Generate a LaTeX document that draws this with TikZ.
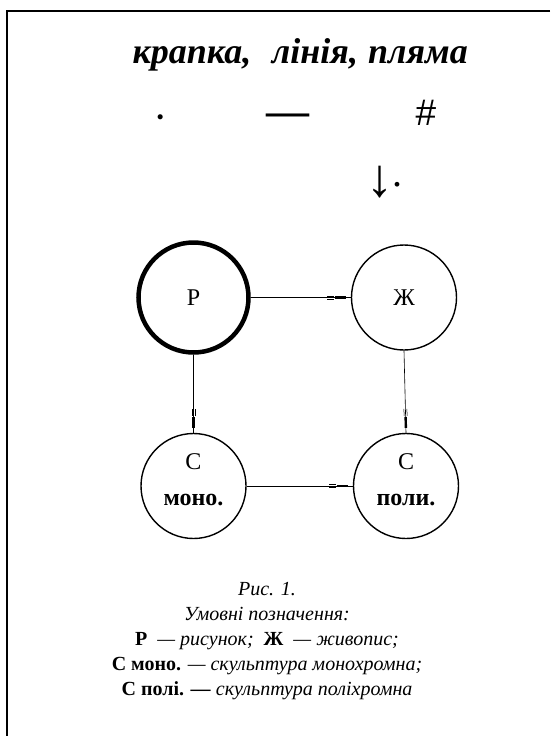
\documentclass[tikz,border=0pt]{standalone}
\usepackage{fontspec}
\setmainfont{Liberation Serif}
\newfontfamily\sansf{Liberation Sans}
\usetikzlibrary{calc}
\newcommand\linkarrow[2]{%
  \draw[conn] (#1) -- (#2);
  \coordinate (t1) at ($(#2)!5pt!(#1)$);
  \coordinate (t2) at ($(#2)!16pt!(#1)$);
  \coordinate (t3) at ($(#2)!17pt!(#1)$);
  \coordinate (t4) at ($(#2)!24pt!(#1)$);
  \draw[line width=2.4pt] (t1) -- (t2);
  \draw[line width=0.5pt] ($(t3)!1.5pt!90:(t4)$) -- ($(t4)!1.5pt!-90:(t3)$);
  \draw[line width=0.5pt] ($(t3)!1.5pt!-90:(t4)$) -- ($(t4)!1.5pt!90:(t3)$);
}
\begin{document}
\begin{tikzpicture}[x=1pt,y=-1pt,
  circ/.style={circle,draw,line width=1.4pt,minimum size=105pt,inner sep=0pt,
    font=\fontsize{24}{36}\selectfont,align=center},
  conn/.style={line width=0.6pt},
  title/.style={anchor=base,inner sep=0pt,font=\fontsize{36}{36}\selectfont\bfseries\itshape},
  sym/.style={anchor=base,inner sep=0pt,font=\fontsize{43}{43}\selectfont}]
\useasboundingbox (0,0) rectangle (550,736);
\fill[white] (0,0) rectangle (550,736);
\draw[line width=2pt] (550,11) -- (7,11) -- (7,736);

\node[title] (w1) at (192,63) {крапка,};
\node[title] (w2) at (315,63) {лінія,};
\node[title] (w3) at (418,63) {пляма};

\node[sym] (dot) at (161,131) {·};
\node[sym] (dash) at (288,125) {\textbf{—}};
\node[sym,font=\sansf\fontsize{37}{37}\selectfont] (hash) at (426,125) {\#};
\node[sym,font=\fontsize{40}{40}\selectfont] (arr) at (384,186)
  {\raisebox{-10pt}{\fontsize{54}{54}\selectfont ↓}\kern-1pt.};

\node[circ,line width=4.5pt,minimum size=110pt] (p) at (193.5,297.5) {Р};
\node[circ] (zh) at (404,297.5) {Ж};
\node[circ,text depth=13pt] (cm) at (193.5,486) {С\\\textbf{моно.}};
\node[circ,text depth=13pt] (cp) at (406,486) {С\\\textbf{поли.}};

\linkarrow{p.east}{zh.west}
\linkarrow{p.south}{cm.north}
\linkarrow{zh.south}{cp.north}
\linkarrow{cm.east}{cp.west}

\node[anchor=north,inner sep=0pt,align=center,font=\fontsize{20}{25}\selectfont] (cap) at (267,582)
 {\textit{Рис. 1.}\\
  \textit{Умовні позначення:}\\
  \textbf{Р}\enspace\textit{— рисунок;}\enspace\textbf{Ж}\enspace\textit{— живопис;}\\
  \textbf{С моно.} \textit{— скульптура монохромна;}\\
  \textbf{С полі. —} \textit{скульптура поліхромна}};
\end{tikzpicture}
\end{document}
